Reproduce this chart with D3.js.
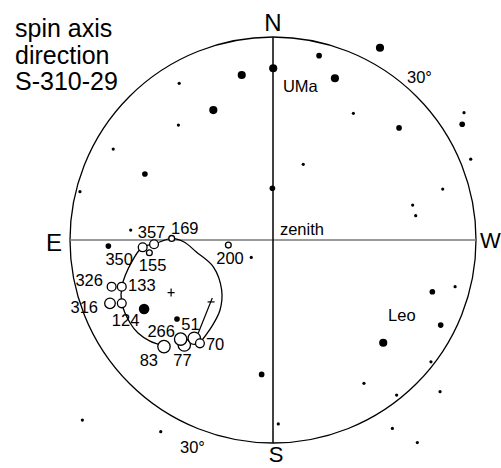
<!DOCTYPE html>
<html>
<head>
<meta charset="utf-8">
<script src="https://cdn.jsdelivr.net/npm/d3@7/dist/d3.min.js"></script>
<style>
  html, body { margin: 0; padding: 0; background: #fff; }
  svg { display: block; }
  text { font-family: "Liberation Sans", Arial, Helvetica, sans-serif; fill: #000; }
</style>
</head>
<body>
<svg id="chart" width="501" height="468"></svg>
<script>
// ---- data (plane coordinates, horizon radius = 1; +x toward W, +y toward N) ----
const titleLines = ["spin axis", "direction", "S-310-29"];
const compassNames = ["N", "E", "S", "W"];

// background stars
const starX = [-0.154, -0.294, -0.462, -0.466, -0.787, -0.631, -0.951, 0.527, 0.227, 0.001,
               0.305, 0.396, 0.621, 0.941, 0.932, 0.149, 0.974, 0.836, -0.003, 0.688,
               0.703, -0.107, 0.897, 0.785, 0.826, 0.543, 0.778, -0.056, 0.448, 0.609,
               0.823, 0.026, 0.588, 0.711, -0.939, -0.553, -0.811, -0.701, -0.635, -0.473];
const starY = [0.813, 0.640, 0.772, 0.566, 0.448, 0.325, 0.238, 0.947, 0.908, 0.846,
               0.797, 0.624, 0.552, 0.627, 0.570, 0.373, 0.398, 0.251, 0.255, 0.172,
               0.120, -0.086, -0.230, -0.255, -0.419, -0.506, -0.600, -0.662, -0.706, -0.764,
               -0.747, -0.906, -0.928, -0.998, -0.887, -0.944, -0.030, 0.049, -0.340, -0.389];
const starMag = [1, 1, 3, 3, 3, 2, 3, 1, 2, 1,
                 1, 3, 2, 3, 2, 3, 3, 3, 2, 3,
                 3, 3, 3, 2, 2, 1, 3, 2, 3, 3,
                 3, 3, 3, 3, 3, 3, 2, 3, 0, 2];

// spin-axis observations
const obsLabel = ["357", "169", "350", "155", "200", "326", "133", "316", "124", "83", "77", "266", "51", "70"];
const obsX = [-0.586, -0.499, -0.642, -0.609, -0.220, -0.795, -0.745, -0.803, -0.745, -0.537, -0.437, -0.455, -0.388, -0.360];
const obsY = [-0.021, 0.008, -0.036, -0.063, -0.025, -0.230, -0.230, -0.312, -0.312, -0.525, -0.517, -0.488, -0.484, -0.509];
const obsClass = [2, 1, 2, 1, 1, 2, 2, 3, 2, 4, 4, 4, 4, 2];

// precession track
const trackX = [-0.537, -0.606, -0.665, -0.704, -0.745, -0.745, -0.696, -0.642, -0.586, -0.499,
                -0.438, -0.379, -0.294, -0.253, -0.261, -0.302, -0.360];
const trackY = [-0.522, -0.498, -0.458, -0.409, -0.310, -0.232, -0.108, -0.034, -0.020, 0.008,
                -0.010, -0.058, -0.132, -0.246, -0.345, -0.427, -0.507];

// cone centre and mean-axis marker
const coneCentre = [-0.502, -0.259];
const meanAxis = [-0.305, -0.305];
const meanAxisTail = [-0.368, -0.458];

const regionNames = ["UMa", "Leo", "zenith"];
const regionX = [0.049, 0.567, 0.034];
const regionY = [0.729, -0.400, 0.025];
const altLabels = ["30°", "30°"];
const altX = [0.660, -0.458];
const altY = [0.773, -1.050];

// ---- layout ----
const svg = d3.select("#chart");
const cx = 273, cy = 240, R = 203;
const x = d3.scaleLinear().domain([-1, 1]).range([cx - R, cx + R]);
const y = d3.scaleLinear().domain([-1, 1]).range([cy + R, cy - R]);
const rStar = d3.scaleLinear().domain([0, 3]).range([5.3, 1.6]);
const rObs = d3.scaleOrdinal().domain([1, 2, 3, 4]).range([2.9, 4.4, 5.3, 6.2]);

svg.append("rect").attr("width", 501).attr("height", 468).attr("fill", "#fff");

// title
svg.append("g").selectAll("text").data(titleLines).join("text")
  .attr("x", 15).attr("y", (d, i) => 37 + i * 26.7)
  .attr("font-size", 25).text(d => d);

// horizon
svg.append("circle").attr("cx", x(0)).attr("cy", y(0)).attr("r", x(1) - x(0))
  .attr("fill", "none").attr("stroke", "#000").attr("stroke-width", 1.3);

// E-W line (grey) and N-S line
svg.append("line").attr("x1", x(-1)).attr("x2", x(1)).attr("y1", y(0)).attr("y2", y(0))
  .attr("stroke", "#7a7a7a").attr("stroke-width", 1.6);
svg.append("line").attr("x1", x(0)).attr("x2", x(0)).attr("y1", y(1)).attr("y2", y(-1))
  .attr("stroke", "#111").attr("stroke-width", 1.6);

// compass letters
const compassPos = {
  N: { px: x(0), py: y(1) - 6, anchor: "middle", fs: 24 },
  S: { px: x(0) + 3, py: y(-1) + 19, anchor: "middle", fs: 22 },
  E: { px: x(-1) - 8, py: y(0) + 11, anchor: "end", fs: 24 },
  W: { px: x(1) + 4, py: y(0) + 8, anchor: "start", fs: 22 }
};
svg.append("g").selectAll("text").data(compassNames).join("text")
  .attr("x", d => compassPos[d].px).attr("y", d => compassPos[d].py)
  .attr("text-anchor", d => compassPos[d].anchor)
  .attr("font-size", d => compassPos[d].fs).text(d => d);

// stars
svg.append("g").selectAll("circle").data(starX.map((v, i) => i)).join("circle")
  .attr("cx", i => x(starX[i])).attr("cy", i => y(starY[i]))
  .attr("r", i => rStar(starMag[i])).attr("fill", "#000");

// region / altitude labels
svg.append("g").selectAll("text").data(regionNames).join("text")
  .attr("x", (d, i) => x(regionX[i])).attr("y", (d, i) => y(regionY[i]))
  .attr("font-size", 16.5).text(d => d);
svg.append("g").selectAll("text").data(altLabels).join("text")
  .attr("x", (d, i) => x(altX[i])).attr("y", (d, i) => y(altY[i]))
  .attr("font-size", 16.5).text(d => d);

// track
const trackPts = trackX.map((v, i) => [x(v), y(trackY[i])]);
svg.append("path").attr("d", d3.line().curve(d3.curveCatmullRom.alpha(0.5))(trackPts))
  .attr("fill", "none").attr("stroke", "#000").attr("stroke-width", 1.3);

// cone centre +
const c0 = [x(coneCentre[0]), y(coneCentre[1])];
svg.append("path").attr("d", `M${c0[0] - 3.5},${c0[1]}H${c0[0] + 3.5}M${c0[0]},${c0[1] - 4}V${c0[1] + 4}`)
  .attr("stroke", "#000").attr("stroke-width", 1.2);

// mean axis marker with tail
const m0 = [x(meanAxis[0]), y(meanAxis[1])];
const m1 = [x(meanAxisTail[0]), y(meanAxisTail[1])];
svg.append("line").attr("x1", m0[0] + 1.2).attr("y1", m0[1] - 4).attr("x2", m1[0]).attr("y2", m1[1])
  .attr("stroke", "#000").attr("stroke-width", 1.2);
svg.append("line").attr("x1", m0[0] - 3.5).attr("x2", m0[0] + 3.5).attr("y1", m0[1]).attr("y2", m0[1])
  .attr("stroke", "#000").attr("stroke-width", 1.2);

// observations
svg.append("g").selectAll("circle").data(obsLabel.map((v, i) => i)).join("circle")
  .attr("cx", i => x(obsX[i])).attr("cy", i => y(obsY[i]))
  .attr("r", i => rObs(obsClass[i]))
  .attr("fill", "#fff").attr("stroke", "#000").attr("stroke-width", 1.3);

const labelPlace = {
  "357": ["middle", -2.5, -6],
  "169": ["start", -0.7, -4.3],
  "350": ["end", -9.7, 17.7],
  "155": ["middle", 3.2, 18.3],
  "200": ["middle", 1.7, 19],
  "326": ["end", -8.7, -0.7],
  "133": ["start", 6.3, 4.3],
  "316": ["end", -12, 9.7],
  "124": ["middle", 3.8, 22.7],
  "266": ["end", -5.7, -2],
  "51":  ["middle", -3.8, -8.3],
  "70":  ["start", 6, 6.7],
  "83":  ["end", -6, 19.5],
  "77":  ["middle", -1.8, 21]
};
svg.append("g").selectAll("text").data(obsLabel.map((v, i) => i)).join("text")
  .attr("x", i => x(obsX[i]) + labelPlace[obsLabel[i]][1])
  .attr("y", i => y(obsY[i]) + labelPlace[obsLabel[i]][2])
  .attr("text-anchor", i => labelPlace[obsLabel[i]][0])
  .attr("font-size", 16.5).text(i => obsLabel[i]);
</script>
</body>
</html>
